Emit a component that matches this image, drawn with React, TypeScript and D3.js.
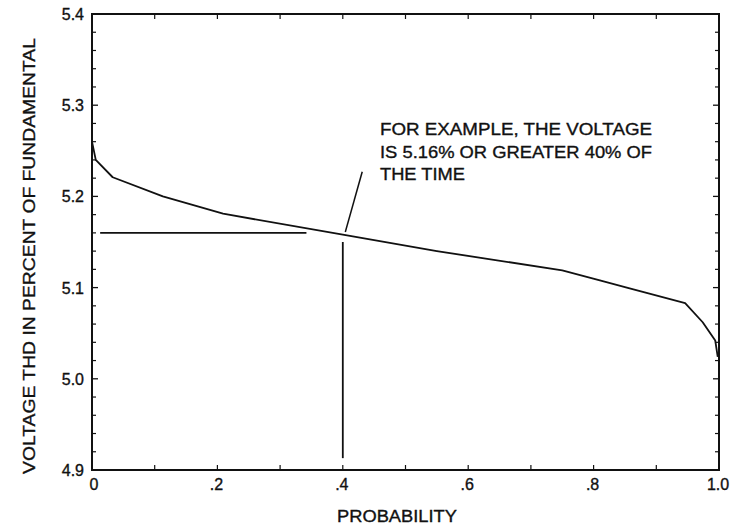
import React from "react";
import * as d3 from "d3";

const probability = [0, 0.006, 0.033, 0.113, 0.209, 0.4, 0.55, 0.75, 0.81, 0.853, 0.946, 0.974, 0.994, 0.998];
const thd = [5.26, 5.24, 5.221, 5.2, 5.181, 5.158, 5.14, 5.119, 5.108, 5.1, 5.083, 5.062, 5.042, 5.024];

const xMajorTicks = [0, 0.2, 0.4, 0.6, 0.8, 1.0];
const xTickLabels = ["0", ".2", ".4", ".6", ".8", "1.0"];
const xMinorTicks = [0.1, 0.3, 0.5, 0.7, 0.9];
const yMajorTicks = [4.9, 5.0, 5.1, 5.2, 5.3, 5.4];
const yTickLabels = ["4.9", "5.0", "5.1", "5.2", "5.3", "5.4"];
const yMinorTicks = [4.92, 4.94, 4.96, 4.98, 5.02, 5.04, 5.06, 5.08, 5.12, 5.14, 5.16, 5.18, 5.22, 5.24, 5.26, 5.28, 5.32, 5.34, 5.36, 5.38];

const annotationLines = ["FOR EXAMPLE, THE VOLTAGE", "IS 5.16% OR GREATER 40% OF", "THE TIME"];
const exampleProb = 0.4;
const exampleValue = 5.16;

export default function App() {
  const W = 732, H = 529;
  const x = d3.scaleLinear().domain([0, 1]).range([92, 719]);
  const y = d3.scaleLinear().domain([4.9, 5.4]).range([470, 14]);
  const line = d3.line<number>().x((_, i) => x(probability[i])).y((d) => y(d));
  const font = "'Liberation Sans', Arial, Helvetica, sans-serif";
  const ink = "#111";
  const textStroke = { stroke: ink, strokeWidth: 0.35 };
  return (
    <svg width={W} height={H} style={{ position: "absolute", left: 0, top: 0, background: "#fff" }}>
      {/* frame */}
      <rect x={x(0)} y={y(5.4)} width={x(1) - x(0)} height={y(4.9) - y(5.4)} fill="none" stroke={ink} strokeWidth={2} />
      {/* y ticks */}
      {yMajorTicks.map((v) => (
        <g key={"ym" + v}>
          <line x1={x(0)} x2={x(0) + 6} y1={y(v)} y2={y(v)} stroke={ink} strokeWidth={1.3} />
          <line x1={x(1)} x2={x(1) - 6} y1={y(v)} y2={y(v)} stroke={ink} strokeWidth={1.3} />
        </g>
      ))}
      {yMinorTicks.map((v) => (
        <g key={"yn" + v}>
          <line x1={x(0)} x2={x(0) + 4} y1={y(v)} y2={y(v)} stroke={ink} strokeWidth={1.2} />
          <line x1={x(1)} x2={x(1) - 4} y1={y(v)} y2={y(v)} stroke={ink} strokeWidth={1.2} />
        </g>
      ))}
      {yMajorTicks.map((v, i) => (
        <text key={"yl" + v} x={84} y={y(v) + 6} textAnchor="end" fontFamily={font} fontSize={16} fill={ink} {...textStroke}>
          {yTickLabels[i]}
        </text>
      ))}
      {/* x ticks */}
      {[...xMajorTicks, ...xMinorTicks].map((v) => (
        <g key={"xt" + v}>
          <line x1={x(v)} x2={x(v)} y1={y(4.9)} y2={y(4.9) - 5} stroke={ink} strokeWidth={1.2} />
          <line x1={x(v)} x2={x(v)} y1={y(5.4)} y2={y(5.4) + 5} stroke={ink} strokeWidth={1.2} />
        </g>
      ))}
      {xMajorTicks.map((v, i) => (
        <text key={"xl" + v} x={x(v) + (v === 0 ? 2 : -1)} y={490} textAnchor="middle" fontFamily={font} fontSize={16} fill={ink} {...textStroke}>
          {xTickLabels[i]}
        </text>
      ))}
      {/* axis titles */}
      <text x={397} y={522} textAnchor="middle" fontFamily={font} fontSize={17} fill={ink} textLength={120} lengthAdjust="spacingAndGlyphs" {...textStroke}>
        PROBABILITY
      </text>
      <text transform={`translate(35,256) rotate(-90)`} textAnchor="middle" fontFamily={font} fontSize={17} fill={ink} textLength={436} lengthAdjust="spacingAndGlyphs" {...textStroke}>
        VOLTAGE THD IN PERCENT OF FUNDAMENTAL
      </text>
      {/* curve */}
      <path d={line(thd) || ""} fill="none" stroke={ink} strokeWidth={1.8} strokeLinejoin="round" />
      {/* example annotation */}
      <line x1={x(0.013)} x2={x(0.342)} y1={y(exampleValue)} y2={y(exampleValue)} stroke={ink} strokeWidth={1.8} />
      <line x1={x(exampleProb)} x2={x(exampleProb)} y1={y(5.15)} y2={y(4.913)} stroke={ink} strokeWidth={1.8} />
      <line x1={x(0.404)} x2={x(0.431)} y1={y(5.161)} y2={y(5.227)} stroke={ink} strokeWidth={1.5} />
      {annotationLines.map((t, i) => (
        <text key={t} x={380} y={135 + i * 22.5} fontFamily={font} fontSize={17} fill={ink} textLength={i === 2 ? 85 : 272} lengthAdjust="spacingAndGlyphs" {...textStroke}>
          {t}
        </text>
      ))}
    </svg>
  );
}
